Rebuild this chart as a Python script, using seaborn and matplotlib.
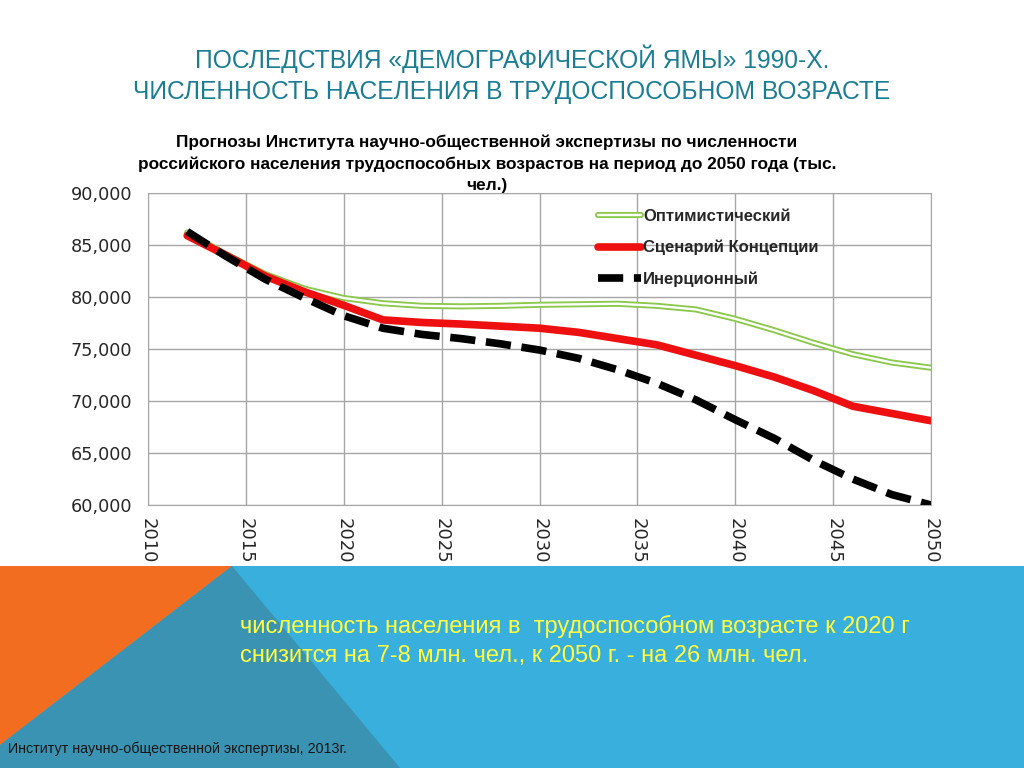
import matplotlib
matplotlib.use("Agg")
import matplotlib.pyplot as plt
import matplotlib.patheffects as pe
from matplotlib.patches import Polygon
import seaborn as sns
import pandas as pd

# ---- data (thousand people) ----
years = [2012, 2014, 2016, 2018, 2020, 2022, 2024, 2026, 2028, 2030,
         2032, 2034, 2036, 2038, 2040, 2042, 2044, 2046, 2048, 2050]
optimistic = [86200, 84100, 82200, 80800, 79900, 79400, 79150, 79100, 79150, 79250,
              79300, 79350, 79150, 78800, 77900, 76800, 75600, 74500, 73700, 73200]
concept = [85900, 84000, 82000, 80500, 79200, 77800, 77550, 77400, 77200, 77000,
           76600, 76000, 75400, 74400, 73400, 72300, 71000, 69500, 68800, 68100]
inertial = [86300, 83900, 81700, 79900, 78200, 77000, 76400, 76000, 75500, 74900,
            74100, 73000, 71700, 70100, 68200, 66400, 64300, 62500, 61000, 60000]

series_names = ["Оптимистический", "Сценарий Концепции", "Инерционный"]
x_ticks = list(range(2010, 2051, 5))
y_ticks = list(range(60000, 90001, 5000))

title = "ПОСЛЕДСТВИЯ «ДЕМОГРАФИЧЕСКОЙ ЯМЫ» 1990-Х.\nЧИСЛЕННОСТЬ НАСЕЛЕНИЯ В ТРУДОСПОСОБНОМ ВОЗРАСТЕ"
chart_title = ("Прогнозы Института научно-общественной экспертизы по численности\n"
               "российского населения трудоспособных возрастов на период до 2050 года (тыс.\n"
               "чел.)")
note = ("численность населения в  трудоспособном возрасте к 2020 г\n"
        "снизится на 7-8 млн. чел., к 2050 г. - на 26 млн. чел.")
source = "Институт научно-общественной экспертизы, 2013г."

df = pd.DataFrame({"year": years, "opt": optimistic, "con": concept, "ine": inertial})

sns.set_style("white")
plt.rcParams['font.family'] = ['DejaVu Sans']
sans = ['Liberation Sans', 'DejaVu Sans']

W, H = 1024, 768
fig = plt.figure(figsize=(W / 100, H / 100), dpi=100)
fig.patch.set_facecolor("white")

def fx(px):
    return px / W

def fy(py):
    return 1 - py / H

# ---- bottom decorative band ----
band_top = 566
fig.patches.append(Polygon([(0, 0), (1, 0), (1, fy(band_top)), (0, fy(band_top))],
                           closed=True, transform=fig.transFigure, facecolor="#38afdc",
                           edgecolor="none", zorder=0))
fig.patches.append(Polygon([(0, fy(band_top)), (fx(232), fy(band_top)), (0, fy(745))],
                           closed=True, transform=fig.transFigure, facecolor="#f36d21",
                           edgecolor="none", zorder=1))
fig.patches.append(Polygon([(fx(232), fy(band_top)), (fx(400), 0), (0, 0), (0, fy(745))],
                           closed=True, transform=fig.transFigure, facecolor="#3a93b2",
                           edgecolor="none", zorder=1))

# ---- chart ----
ax = fig.add_axes([fx(148), fy(505), fx(931) - fx(148), fy(193) - fy(505)])
ax.set_facecolor("white")

sns.lineplot(data=df, x="year", y="opt", ax=ax, color="white", linewidth=1.7,
             label=series_names[0],
             path_effects=[pe.Stroke(linewidth=4.4, foreground="#8cc84b"), pe.Normal()])
sns.lineplot(data=df, x="year", y="con", ax=ax, color="#ee1010", linewidth=5.5,
             label=series_names[1])
sns.lineplot(data=df, x="year", y="ine", ax=ax, color="black", linewidth=5.5,
             label=series_names[2])
ax.lines[-1].set_dashes((3.3, 1.4))
ax.lines[-1].set_dash_capstyle("butt")

ax.set_xlim(2010, 2050)
ax.set_ylim(60000, 90000)
ax.set_xticks(x_ticks)
ax.set_yticks(y_ticks)
ax.set_xticklabels([str(v) for v in x_ticks], rotation=-90, fontsize=13)
ax.set_yticklabels([f"{v:,}" for v in y_ticks], fontsize=12.7)
ax.grid(True, color="#a6a6a6", linewidth=1)
for s in ax.spines.values():
    s.set_color("#a6a6a6")
ax.tick_params(axis="both", length=4.5, color="#a6a6a6")
ax.tick_params(axis="y", pad=7)
ax.tick_params(axis="x", pad=5)
ax.set_xlabel("")
ax.set_ylabel("")

ax.legend(loc="upper left", bbox_to_anchor=(fx(583), fy(194)),
          bbox_transform=fig.transFigure, frameon=False,
          handlelength=2.55, handletextpad=0.15, labelspacing=0.95,
          prop={"family": sans, "weight": "bold", "size": 12})

# ---- texts ----
fig.text(0.5, fy(74), title, ha="center", va="center", color="#1b7d94",
         fontsize=17.7, family=sans, linespacing=1.35)
fig.text(fx(487), fy(164), chart_title, ha="center", va="center", color="black",
         fontsize=12.4, weight="bold", family=sans, linespacing=1.5)
fig.text(fx(240), fy(641), note, ha="left", va="center", color="#ffff40",
         fontsize=17, family=sans, linespacing=1.45)
fig.text(fx(8), fy(749), source, ha="left", va="center", color="#151515",
         fontsize=10.3, family=sans)

fig.savefig("out.png", dpi=100, facecolor=fig.get_facecolor())
